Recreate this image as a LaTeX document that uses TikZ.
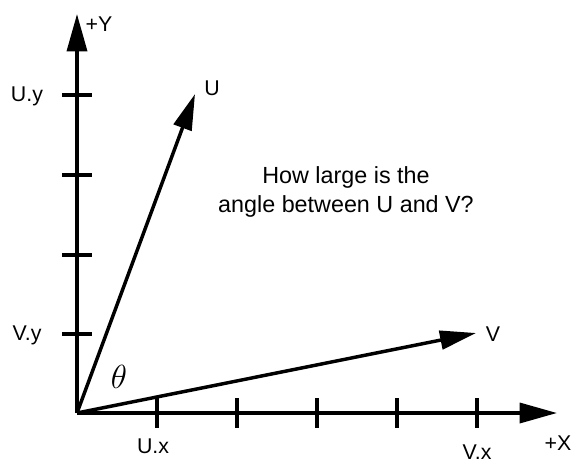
\documentclass[tikz,border=0pt]{standalone}
\usepackage{fontspec}
\usepackage{graphicx}
\setmainfont{Liberation Sans}
\usetikzlibrary{arrows.meta, positioning}

\begin{document}
\begin{tikzpicture}[
    x=0.75pt, y=-0.75pt,
    every node/.style={font=\fontsize{16}{19}\selectfont},
    arrow/.style={-{Triangle[length=27pt, width=14pt]}, line width=2.6pt},
    axis/.style={-{Triangle[length=28pt, width=15pt]}, line width=2.6pt},
    tick/.style={line width=2.6pt}
]
\useasboundingbox (0,0) rectangle (571,464);

% ============ AXES ============
\coordinate (O) at (77,413);
\coordinate (Ytip) at (77,14);
\coordinate (Xtip) at (557,413);
\draw[axis] (O) -- (Ytip);
\draw[axis] (O) -- (Xtip);

% Tick marks
\foreach \y in {95, 175, 255, 334}
    \draw[tick] (62,\y) -- (92,\y);
\foreach \x in {157, 237, 317, 397, 477}
    \draw[tick] (\x,398) -- (\x,428);

% ============ VECTORS ============
\coordinate (U) at (195,94);
\coordinate (V) at (476,333);
\draw[arrow] (O) -- (U);
\draw[arrow] (O) -- (V);

% ============ LABELS ============
\node (labY) at (99,24) {+Y};
\node (labX) at (558,443) {+X};
\node (labUy) at (27,96) {U.y};
\node (labVy) at (27,335) {V.y};
\node (labUx) at (153,446) {U.x};
\node (labVx) at (477,452) {V.x};
\node (labU) at (212,88) {U};
\node (labV) at (493,334) {V};
\node (theta) at (119,377) {\scalebox{1.45}{$\theta$}};

% Question
\node[align=center, font=\fontsize{17.5}{21.5}\selectfont] (question) at (346,192) {How large is the\\angle between U and V?};

\end{tikzpicture}
\end{document}
